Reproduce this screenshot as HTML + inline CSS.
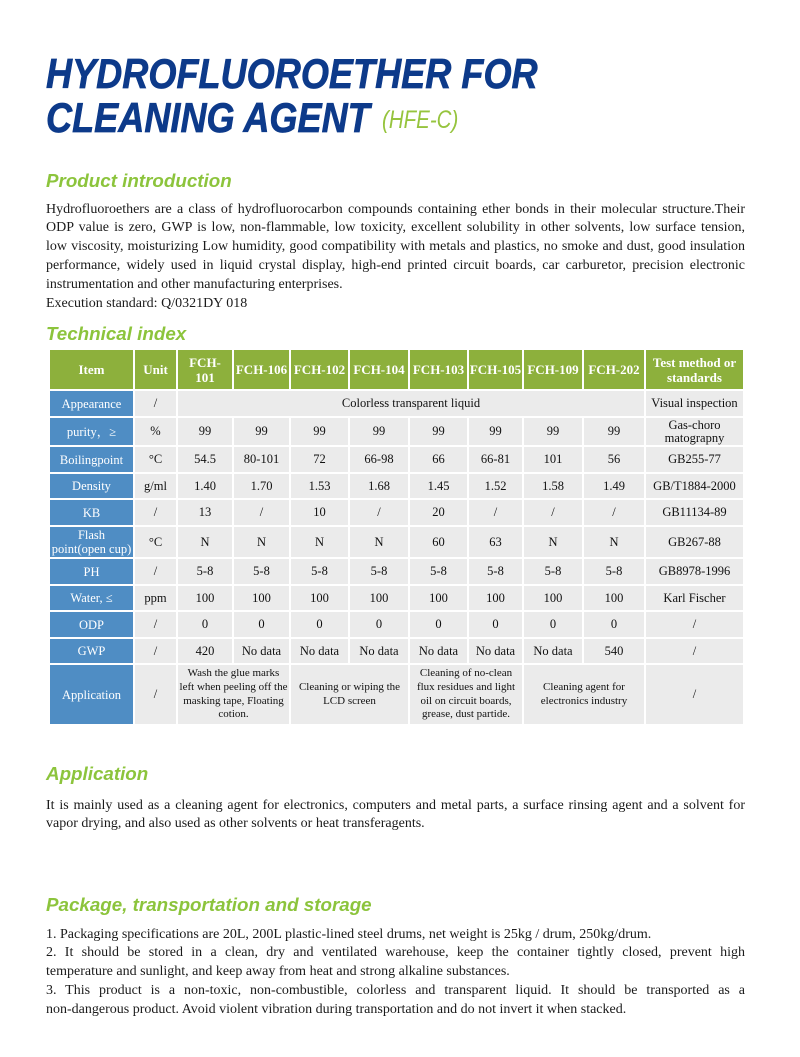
<!DOCTYPE html>
<html><head><meta charset="utf-8">
<style>
*{margin:0;padding:0;box-sizing:border-box}
html,body{width:800px;height:1057px;background:#fff;overflow:hidden}
body{position:relative;font-family:"Liberation Serif","Noto Serif CJK SC",serif;color:#111}
.t{position:absolute;left:46px;font-family:"Liberation Sans",sans-serif;font-weight:bold;font-style:italic;font-size:42px;line-height:44px;color:#0d3a8a;white-space:nowrap;transform:scaleX(.86);transform-origin:0 0;-webkit-text-stroke:0.7px #0d3a8a}
.hfe{position:absolute;left:382px;top:108px;font-family:"Liberation Sans",sans-serif;font-style:italic;font-size:25px;line-height:25px;color:#96c43e;white-space:nowrap;transform:scaleX(.82);transform-origin:0 0}
.h{position:absolute;left:46px;font-family:"Liberation Sans",sans-serif;font-weight:bold;font-style:italic;font-size:18.8px;line-height:19px;color:#8cc43c;white-space:nowrap}
.p{position:absolute;left:46px;width:699px;font-size:14px;line-height:18.9px;color:#1a1a1a}
.ln{white-space:nowrap;height:18.9px}
.grid{position:absolute;left:50px;top:350px;display:grid;
grid-template-columns:83px 41px 54px 55px 57px 58px 57px 53px 58px 60px 97px;
grid-template-rows:39px 25px 27px 25px 24px 25px 30px 25px 24px 25px 24px 59px;gap:2px}
.grid div{display:flex;align-items:center;justify-content:center;text-align:center;background:#ebebeb;font-size:12.5px;line-height:13px;color:#111}
.grid .g{background:#8db03c;color:#fff;font-weight:bold;font-size:13px;line-height:15px}
.grid .b{background:#4f8dc4;color:#fff;font-size:12.5px;line-height:14px}
.grid .a{font-size:11px;line-height:13.7px}
</style></head><body>
<div class="t" style="top:51.5px">HYDROFLUOROETHER FOR<br>CLEANING AGENT</div>
<div class="hfe">(HFE-C)</div>

<div class="h" style="top:171px">Product introduction</div>
<div class="p" style="top:200.5px">
<div class="ln j"><span>Hydrofluoroethers are a class of hydrofluorocarbon compounds containing ether bonds in their molecular structure.Their</span></div>
<div class="ln j"><span>ODP value is zero, GWP is low, non-flammable, low toxicity, excellent solubility in other solvents, low surface tension,</span></div>
<div class="ln j"><span>low viscosity, moisturizing Low humidity, good compatibility with metals and plastics, no smoke and dust, good insulation</span></div>
<div class="ln j"><span>performance, widely used in liquid crystal display, high-end printed circuit boards, car carburetor, precision electronic</span></div>
<div class="ln"><span>instrumentation and other manufacturing enterprises.</span></div>
<div class="ln"><span>Execution standard: Q/0321DY 018</span></div>
</div>

<div class="h" style="top:324px">Technical index</div>

<div class="grid">
<div class="g">Item</div><div class="g">Unit</div><div class="g">FCH-<br>101</div><div class="g">FCH-106</div><div class="g">FCH-102</div><div class="g">FCH-104</div><div class="g">FCH-103</div><div class="g">FCH-105</div><div class="g">FCH-109</div><div class="g">FCH-202</div><div class="g">Test method or<br>standards</div>

<div class="b">Appearance</div><div>/</div><div style="grid-column:span 8">Colorless transparent liquid</div><div>Visual inspection</div>

<div class="b">purity，≥</div><div>%</div><div>99</div><div>99</div><div>99</div><div>99</div><div>99</div><div>99</div><div>99</div><div>99</div><div>Gas-choro<br>matograpny</div>

<div class="b">Boilingpoint</div><div>°C</div><div>54.5</div><div>80-101</div><div>72</div><div>66-98</div><div>66</div><div>66-81</div><div>101</div><div>56</div><div>GB255-77</div>

<div class="b">Density</div><div>g/ml</div><div>1.40</div><div>1.70</div><div>1.53</div><div>1.68</div><div>1.45</div><div>1.52</div><div>1.58</div><div>1.49</div><div>GB/T1884-2000</div>

<div class="b">KB</div><div>/</div><div>13</div><div>/</div><div>10</div><div>/</div><div>20</div><div>/</div><div>/</div><div>/</div><div>GB11134-89</div>

<div class="b">Flash<br>point(open cup)</div><div>°C</div><div>N</div><div>N</div><div>N</div><div>N</div><div>60</div><div>63</div><div>N</div><div>N</div><div>GB267-88</div>

<div class="b">PH</div><div>/</div><div>5-8</div><div>5-8</div><div>5-8</div><div>5-8</div><div>5-8</div><div>5-8</div><div>5-8</div><div>5-8</div><div>GB8978-1996</div>

<div class="b">Water, ≤</div><div>ppm</div><div>100</div><div>100</div><div>100</div><div>100</div><div>100</div><div>100</div><div>100</div><div>100</div><div>Karl Fischer</div>

<div class="b">ODP</div><div>/</div><div>0</div><div>0</div><div>0</div><div>0</div><div>0</div><div>0</div><div>0</div><div>0</div><div>/</div>

<div class="b">GWP</div><div>/</div><div>420</div><div>No data</div><div>No data</div><div>No data</div><div>No data</div><div>No data</div><div>No data</div><div>540</div><div>/</div>

<div class="b">Application</div><div>/</div>
<div class="a" style="grid-column:span 2">Wash the glue marks<br>left when peeling off the<br>masking tape, Floating<br>cotion.</div>
<div class="a" style="grid-column:span 2">Cleaning or wiping the<br>LCD screen</div>
<div class="a" style="grid-column:span 2">Cleaning of no-clean<br>flux residues and light<br>oil on circuit boards,<br>grease, dust partide.</div>
<div class="a" style="grid-column:span 2">Cleaning agent for<br>electronics industry</div>
<div>/</div>
</div>

<div class="h" style="top:764px">Application</div>
<div class="p" style="top:796.5px">
<div class="ln j"><span>It is mainly used as a cleaning agent for electronics, computers and metal parts, a surface rinsing agent and a solvent for</span></div>
<div class="ln"><span>vapor drying, and also used as other solvents or heat transferagents.</span></div>
</div>

<div class="h" style="top:895px">Package, transportation and storage</div>
<div class="p" style="top:925.5px">
<div class="ln"><span>1. Packaging specifications are 20L, 200L plastic-lined steel drums, net weight is 25kg / drum, 250kg/drum.</span></div>
<div class="ln j"><span>2. It should be stored in a clean, dry and ventilated warehouse, keep the container tightly closed, prevent high</span></div>
<div class="ln"><span>temperature and sunlight, and keep away from heat and strong alkaline substances.</span></div>
<div class="ln j"><span>3. This product is a non-toxic, non-combustible, colorless and transparent liquid. It should be transported as a</span></div>
<div class="ln"><span>non-dangerous product. Avoid violent vibration during transportation and do not invert it when stacked.</span></div>
</div>

<script>
document.querySelectorAll('.ln.j span').forEach(function(s){
  var w=s.getBoundingClientRect().width;
  var n=(s.textContent.match(/ /g)||[]).length;
  if(n>0){s.style.wordSpacing=((699-w)/n)+'px';}
});
</script>
</body></html>
